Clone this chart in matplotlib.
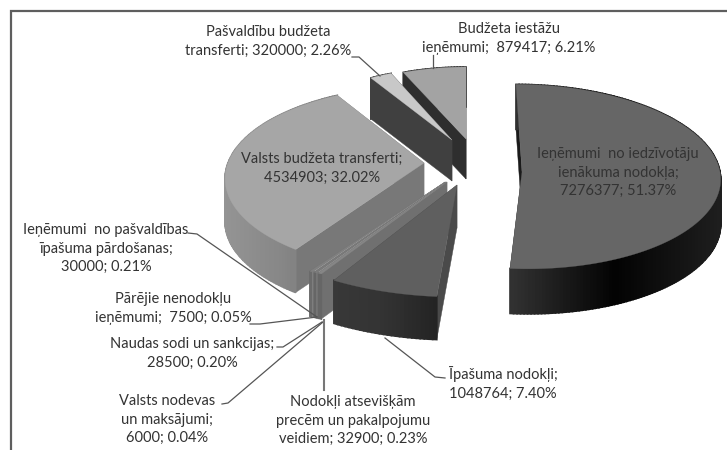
import numpy as np
import matplotlib
matplotlib.use('Agg')
import matplotlib.pyplot as plt

plt.rcParams['font.family'] = ['Lato', 'DejaVu Sans']

# slices, clockwise from the top
names = ['Ieņēmumi  no iedzīvotāju\nienākuma nodokļa;\n', 'Īpašuma nodokļi;\n',
         'Nodokļi atsevišķām\nprecēm un pakalpojumu\nveidiem; ', 'Valsts nodevas\nun maksājumi;\n',
         'Naudas sodi un sankcijas;\n', 'Pārējie nenodokļu\nieņēmumi;  ',
         'Ieņēmumi  no pašvaldības\nīpašuma pārdošanas;\n', 'Valsts budžeta transferti;\n',
         'Pašvaldību budžeta\ntransferti; ', 'Budžeta iestāžu\nieņēmumi;  ']
values = [7276377, 1048764, 32900, 6000, 28500, 7500, 30000, 4534903, 320000, 879417]
percents = ['51.37', '7.40', '0.23', '0.04', '0.20', '0.05', '0.21', '32.02', '2.26', '6.21']

# exploded-3d look: apex, radii, perspective and depth of each slice, in pixels
apex = [(522, 172), (457, 185), (447, 182), (446.5, 182), (446, 182), (445.5, 182), (445, 182),
        (424, 163), (452, 140), (466, 139)]
rx = [198, 235, 240, 240, 240, 240, 240, 196, 160, 165]
ry = [92, 112, 108, 108, 108, 108, 108, 90, 72, 72]
persp = [0.05, 0, 0, 0, 0, 0, 0, 0.17, 0, 0]
shear = [6, 0, 0, 0, 0, 0, 0, 0, 0, 0]
depth = [45, 43, 45, 45, 45, 45, 45, 43, 41, 40]
top_col = ['#666666', '#5f5f5f', '#868686', '#9a9a9a', '#7a7a7a', '#a0a0a0', '#808080', '#a6a6a6', '#c8c8c8', '#a3a3a3']
side_col = ['#1a1a1a', '#4a4a4a', '#707070', '#888888', '#6a6a6a', '#888888', '#707070', '#787878', '#404040', '#2e2e2e']
rim_col = [(.20, .01, .12), (.22, .20, .14), (.4, .4, .4), (.5, .5, .5), (.4, .4, .4), (.5, .5, .5), (.42, .42, .42),
           (.58, .53, .46), (.25, .25, .25), (.18, .18, .18)]
draw_order = [9, 8, 7, 0, 6, 5, 4, 3, 2, 1]

# label centre x, first line y
label_pos = [(618, 154), (503, 373), (353, 402), (167, 401), (192, 344), (173, 299), (106, 230), (322, 159), (268, 32), (509, 29)]
leaders = [[(385, 338), (435, 377), (445, 378)],
           [(222, 404), (228, 403), (323, 322)],
           [(277, 347), (283, 347), (322, 322)],
           [(250, 324), (260, 324), (317, 317)],
           [(188, 233), (197, 234), (317, 317)],
           [(352, 57), (359, 57), (380, 76)],
           [(433, 55), (433, 68)]]


def project(i, ang):
    # ang is measured clockwise from the top of the pie
    s = 1 / (1 + persp[i] * np.cos(ang))
    x = apex[i][0] + rx[i] * np.sin(ang) * s - shear[i] * np.cos(ang)
    return x, apex[i][1] - ry[i] * np.cos(ang) * s


fig = plt.figure(figsize=(7.27, 4.5), dpi=100)
ax = fig.add_axes([0, 0, 1, 1])
ax.set_xlim(0, 727)
ax.set_ylim(450, 0)
ax.axis('off')

# frame is cut off by the crop: only top and left sides are seen
ax.plot([11, 11, 727], [450, 11, 11], color='#5e5e5e', lw=1.6, solid_joinstyle='miter', zorder=1)

edges = np.cumsum([0] + values) / sum(values) * 2 * np.pi

z = 2
for i in draw_order:
    a0, a1 = edges[i], edges[i + 1]
    ax_, ay_ = apex[i]
    d = depth[i]
    for a in (a0, a1):
        x, y = project(i, a)
        ax.fill([ax_, x, x, ax_], [ay_, y, y + d, ay_ + d], color=side_col[i], lw=0.3, zorder=z)
    angs = np.linspace(a0, a1, max(int((a1 - a0) * 60), 2))
    xs, ys = project(i, angs)
    left, right = xs.min(), xs.max()
    for k in range(len(angs) - 1):
        t = (xs[k] - left) / max(right - left, 1)
        g = np.interp(t, [0, 0.5, 1], rim_col[i])
        ax.fill([xs[k], xs[k + 1], xs[k + 1], xs[k]], [ys[k], ys[k + 1], ys[k + 1] + d, ys[k] + d],
                color=str(g), lw=1.2, zorder=z)
    ax.fill(np.r_[ax_, xs], np.r_[ay_, ys], color=top_col[i], lw=0.2, zorder=z)
    z += 1

for pts in leaders:
    ax.plot(*zip(*pts), color='#555555', lw=0.9, zorder=30)
ax.plot([324, 324], [320, 390], color='#777777', lw=1.5, zorder=30)

for i, (x, y) in enumerate(label_pos):
    ax.text(x, y - 7, f'{names[i]}{values[i]}; {percents[i]}%', ha='center', va='top', fontsize=10.5,
            color='#333333', linespacing=1.42, zorder=40)

fig.savefig('out.png', dpi=100)
